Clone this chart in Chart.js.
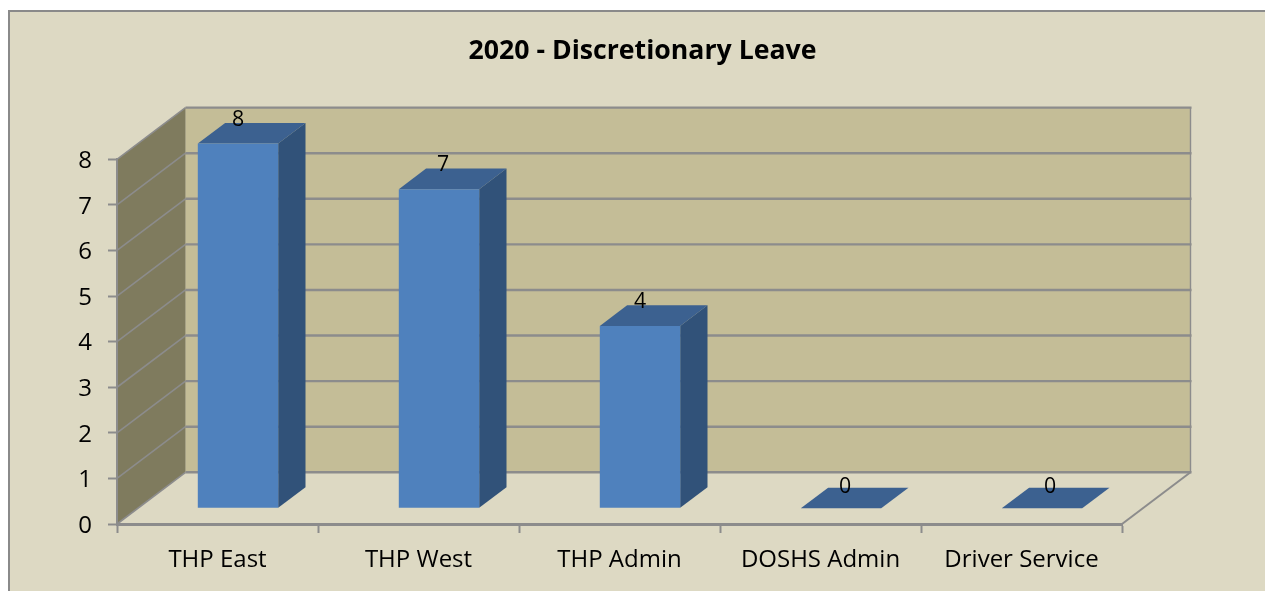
<!DOCTYPE html>
<html>
<head>
<meta charset="utf-8">
<style>html,body{margin:0;padding:0;background:#fff;overflow:hidden}canvas{display:block}</style>
<script src="https://cdn.jsdelivr.net/npm/chart.js@4/dist/chart.umd.min.js"></script>
</head>
<body>
<canvas id="c" width="1265" height="591"></canvas>
<script>
const categories = ["THP East", "THP West", "THP Admin", "DOSHS Admin", "Driver Service"];
const leaveValues = [8, 7, 4, 0, 0];
const titleText = "2020 - Discretionary Leave";
const valueLabelNudgeX = [0, 4, 0, 4, 8];
const valueLabelNudgeY = [0, 0, 0, 2.5, 2.5];

const COL = {
  bg: "#DDD9C3", frame: "#8A8A8A", wall: "#C4BD97", side: "#7F7B5E",
  grid: "#8C8C8C", barFront: "#4F81BD", barTop: "#3C6190", barSide: "#315279", text: "#000"
};
const FONT = "'Open Sans'";
const WALL = { dx: 68.5, dy: -51.7 };      // depth of the plot box
const BAR_OFFSET = { dx: 20.5, dy: -15.7 }; // bars stand inside the box
const BAR_DEPTH = { dx: 27.3, dy: -20.6 };

function poly(ctx, pts, fill) {
  ctx.beginPath();
  pts.forEach((p, i) => i ? ctx.lineTo(p[0], p[1]) : ctx.moveTo(p[0], p[1]));
  ctx.closePath();
  ctx.fillStyle = fill;
  ctx.fill();
}
function line(ctx, x1, y1, x2, y2, w, col) {
  ctx.beginPath();
  ctx.moveTo(x1, y1);
  ctx.lineTo(x2, y2);
  ctx.lineWidth = w;
  ctx.strokeStyle = col || COL.grid;
  ctx.stroke();
}

const box3d = {
  id: "box3d",
  beforeDraw(chart) {
    const { ctx, width, height, chartArea: a, scales: { y } } = chart;
    ctx.save();
    ctx.fillStyle = "#fff";
    ctx.fillRect(0, 0, width, height);
    ctx.fillStyle = COL.frame;
    ctx.fillRect(8, 10, width - 8, height - 10);
    ctx.fillStyle = COL.bg;
    ctx.fillRect(10, 12, width - 10, height - 12);
    const L = a.left, R = a.right, T = a.top, B = a.bottom;
    const bx = WALL.dx, by = WALL.dy;
    // back wall and left wall
    poly(ctx, [[L + bx, T + by], [R + bx, T + by], [R + bx, B + by], [L + bx, B + by]], COL.wall);
    poly(ctx, [[L, T], [L + bx, T + by], [L + bx, B + by], [L, B]], COL.side);
    // gridlines follow the y scale
    y.ticks.forEach(t => {
      const py = y.getPixelForValue(t.value);
      line(ctx, L, py, L + bx, py + by, 1.6, COL.grid);
      line(ctx, L + bx, py + by, R + bx + 1, py + by, 2.4, COL.grid);
    });
    // right edge of the back wall and of the floor
    line(ctx, R + bx, T + by, R + bx, B + by, 1.4, COL.grid);
    line(ctx, R, B, R + bx, B + by, 2, COL.grid);
    ctx.restore();
  },
  beforeDatasetDraw(chart, args) {
    const { ctx } = chart;
    const meta = chart.getDatasetMeta(args.index);
    ctx.save();
    ctx.translate(BAR_OFFSET.dx, BAR_OFFSET.dy);
    meta.data.forEach(b => {
      const l = b.x - b.width / 2, r = b.x + b.width / 2;
      const d = BAR_DEPTH;
      if (b.base - b.y > 0) {
        poly(ctx, [[r, b.y], [r + d.dx, b.y + d.dy], [r + d.dx, b.base + d.dy], [r, b.base]], COL.barSide);
      }
      poly(ctx, [[l, b.y], [l + d.dx, b.y + d.dy], [r + d.dx, b.y + d.dy], [r, b.y]], COL.barTop);
    });
  },
  afterDatasetDraw(chart, args) {
    const { ctx } = chart;
    ctx.restore();
    const meta = chart.getDatasetMeta(args.index);
    const data = chart.data.datasets[args.index].data;
    ctx.save();
    ctx.font = "21.3px " + FONT;
    ctx.fillStyle = COL.text;
    ctx.textAlign = "center";
    ctx.textBaseline = "middle";
    meta.data.forEach((b, i) => {
      ctx.fillText(String(data[i]), b.x + BAR_OFFSET.dx + valueLabelNudgeX[i], b.y + BAR_OFFSET.dy - 24 + valueLabelNudgeY[i]);
    });
    ctx.restore();
  }
};

new Chart(document.getElementById("c"), {
  type: "bar",
  data: {
    labels: categories,
    datasets: [{
      data: leaveValues,
      backgroundColor: COL.barFront,
      borderWidth: 0,
      barPercentage: 1,
      categoryPercentage: 0.4,
      clip: false,
      yAxisID: "y",
      xAxisID: "x"
    }]
  },
  plugins: [box3d],
  options: {
    responsive: false,
    animation: false,
    events: [],
    layout: { padding: { left: 20, right: 0, top: 0, bottom: 0 } },
    plugins: {
      legend: { display: false },
      tooltip: { enabled: false },
      title: {
        display: true,
        text: titleText,
        color: COL.text,
        font: { family: FONT, size: 26.67, weight: "bold", lineHeight: 1.2 },
        padding: { top: 35, bottom: 92.3 }
      }
    },
    scales: {
      x: {
        type: "category",
        afterFit(s) { s.height = 67; },
        grid: { drawOnChartArea: false, drawTicks: true, tickLength: 9, tickWidth: 2, tickColor: COL.grid },
        border: { display: true, color: COL.grid, width: 3 },
        ticks: { color: COL.text, font: { family: FONT, size: 24 }, padding: 12.5, maxRotation: 0, autoSkip: false }
      },
      y: {
        type: "linear",
        position: "left",
        min: 0,
        max: 8,
        afterFit(s) { s.width = 97; },
        grid: { drawOnChartArea: false, drawTicks: true, tickLength: 9, tickWidth: 2, tickColor: COL.grid },
        border: { display: true, color: COL.grid, width: 2 },
        ticks: { stepSize: 1, color: COL.text, font: { family: FONT, size: 24 }, padding: 16, labelOffset: 2 }
      },
      rightGutter: {
        type: "linear",
        position: "right",
        afterFit(s) { s.width = 143; },
        grid: { display: false },
        border: { display: false },
        ticks: { display: false }
      }
    }
  }
});
</script>
</body>
</html>
